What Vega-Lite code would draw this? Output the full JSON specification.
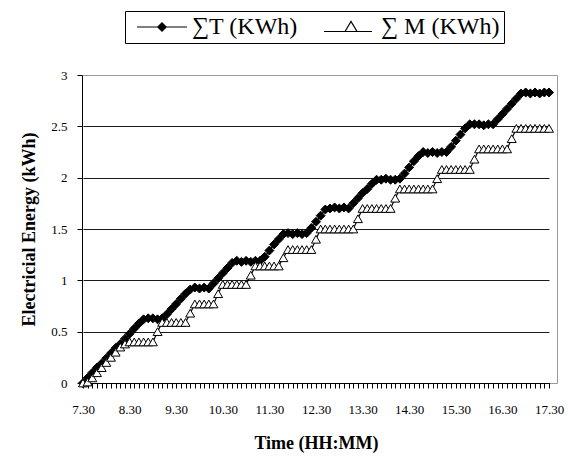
{
  "$schema": "https://vega.github.io/schema/vega-lite/v6.json",
  "width": 475,
  "height": 308,
  "autosize": "none",
  "padding": {"left": 82, "top": 75, "right": 11, "bottom": 79},
  "background": "white",
  "config": {
    "font": "Liberation Serif",
    "view": {"stroke": "#9a9a9a", "strokeWidth": 1},
    "axis": {
      "domainColor": "black",
      "tickColor": "black",
      "labelColor": "black",
      "titleColor": "black",
      "labelFont": "Liberation Serif",
      "titleFont": "Liberation Serif",
      "tickSize": 5
    },
    "legend": {
      "orient": "none",
      "legendX": 43,
      "legendY": -64,
      "direction": "horizontal",
      "labelFont": "Liberation Serif",
      "labelFontSize": 24,
      "labelColor": "black",
      "labelLimit": 0,
      "strokeColor": "black",
      "fillColor": "white",
      "padding": 4,
      "symbolSize": 400,
      "symbolOffset": 21,
      "labelOffset": 18,
      "columnPadding": 20,
      "symbolStrokeColor": "black",
      "symbolStrokeWidth": 1.2
    }
  },
  "data": {
    "values": [
      {"time": "7:30", "T": 0, "M": 0},
      {"time": "7:36", "T": 0.05, "M": 0.01},
      {"time": "7:42", "T": 0.10, "M": 0.05},
      {"time": "7:48", "T": 0.15, "M": 0.10},
      {"time": "7:54", "T": 0.19, "M": 0.15},
      {"time": "8:00", "T": 0.24, "M": 0.20},
      {"time": "8:06", "T": 0.29, "M": 0.25},
      {"time": "8:12", "T": 0.34, "M": 0.30},
      {"time": "8:18", "T": 0.38, "M": 0.35},
      {"time": "8:24", "T": 0.43, "M": 0.38},
      {"time": "8:30", "T": 0.48, "M": 0.40},
      {"time": "8:36", "T": 0.53, "M": 0.40},
      {"time": "8:42", "T": 0.58, "M": 0.40},
      {"time": "8:48", "T": 0.62, "M": 0.40},
      {"time": "8:54", "T": 0.63, "M": 0.40},
      {"time": "9:00", "T": 0.63, "M": 0.40},
      {"time": "9:06", "T": 0.62, "M": 0.50},
      {"time": "9:12", "T": 0.63, "M": 0.59},
      {"time": "9:18", "T": 0.67, "M": 0.59},
      {"time": "9:24", "T": 0.72, "M": 0.59},
      {"time": "9:30", "T": 0.77, "M": 0.59},
      {"time": "9:36", "T": 0.82, "M": 0.59},
      {"time": "9:42", "T": 0.87, "M": 0.59},
      {"time": "9:48", "T": 0.91, "M": 0.68},
      {"time": "9:54", "T": 0.93, "M": 0.77},
      {"time": "10:00", "T": 0.92, "M": 0.77},
      {"time": "10:06", "T": 0.93, "M": 0.77},
      {"time": "10:12", "T": 0.92, "M": 0.77},
      {"time": "10:18", "T": 0.97, "M": 0.77},
      {"time": "10:24", "T": 1.02, "M": 0.87},
      {"time": "10:30", "T": 1.07, "M": 0.96},
      {"time": "10:36", "T": 1.12, "M": 0.96},
      {"time": "10:42", "T": 1.17, "M": 0.96},
      {"time": "10:48", "T": 1.19, "M": 0.96},
      {"time": "10:54", "T": 1.18, "M": 0.96},
      {"time": "11:00", "T": 1.19, "M": 0.96},
      {"time": "11:06", "T": 1.18, "M": 1.05},
      {"time": "11:12", "T": 1.19, "M": 1.14},
      {"time": "11:18", "T": 1.19, "M": 1.14},
      {"time": "11:24", "T": 1.23, "M": 1.14},
      {"time": "11:30", "T": 1.29, "M": 1.14},
      {"time": "11:36", "T": 1.35, "M": 1.14},
      {"time": "11:42", "T": 1.40, "M": 1.14},
      {"time": "11:48", "T": 1.45, "M": 1.22},
      {"time": "11:54", "T": 1.46, "M": 1.30},
      {"time": "12:00", "T": 1.45, "M": 1.30},
      {"time": "12:06", "T": 1.46, "M": 1.30},
      {"time": "12:12", "T": 1.45, "M": 1.30},
      {"time": "12:18", "T": 1.46, "M": 1.30},
      {"time": "12:24", "T": 1.51, "M": 1.30},
      {"time": "12:30", "T": 1.57, "M": 1.40},
      {"time": "12:36", "T": 1.63, "M": 1.50},
      {"time": "12:42", "T": 1.69, "M": 1.50},
      {"time": "12:48", "T": 1.70, "M": 1.50},
      {"time": "12:54", "T": 1.71, "M": 1.50},
      {"time": "13:00", "T": 1.70, "M": 1.50},
      {"time": "13:06", "T": 1.71, "M": 1.50},
      {"time": "13:12", "T": 1.70, "M": 1.50},
      {"time": "13:18", "T": 1.75, "M": 1.50},
      {"time": "13:24", "T": 1.80, "M": 1.60},
      {"time": "13:30", "T": 1.85, "M": 1.70},
      {"time": "13:36", "T": 1.89, "M": 1.70},
      {"time": "13:42", "T": 1.94, "M": 1.70},
      {"time": "13:48", "T": 1.98, "M": 1.70},
      {"time": "13:54", "T": 1.98, "M": 1.70},
      {"time": "14:00", "T": 1.99, "M": 1.70},
      {"time": "14:06", "T": 1.98, "M": 1.70},
      {"time": "14:12", "T": 1.98, "M": 1.80},
      {"time": "14:18", "T": 1.99, "M": 1.89},
      {"time": "14:24", "T": 2.04, "M": 1.89},
      {"time": "14:30", "T": 2.10, "M": 1.89},
      {"time": "14:36", "T": 2.16, "M": 1.89},
      {"time": "14:42", "T": 2.21, "M": 1.89},
      {"time": "14:48", "T": 2.25, "M": 1.89},
      {"time": "14:54", "T": 2.24, "M": 1.89},
      {"time": "15:00", "T": 2.25, "M": 1.89},
      {"time": "15:06", "T": 2.24, "M": 1.99},
      {"time": "15:12", "T": 2.25, "M": 2.08},
      {"time": "15:18", "T": 2.25, "M": 2.08},
      {"time": "15:24", "T": 2.30, "M": 2.08},
      {"time": "15:30", "T": 2.36, "M": 2.08},
      {"time": "15:36", "T": 2.42, "M": 2.08},
      {"time": "15:42", "T": 2.48, "M": 2.08},
      {"time": "15:48", "T": 2.52, "M": 2.08},
      {"time": "15:54", "T": 2.52, "M": 2.18},
      {"time": "16:00", "T": 2.52, "M": 2.28},
      {"time": "16:06", "T": 2.51, "M": 2.28},
      {"time": "16:12", "T": 2.52, "M": 2.28},
      {"time": "16:18", "T": 2.52, "M": 2.28},
      {"time": "16:24", "T": 2.57, "M": 2.28},
      {"time": "16:30", "T": 2.62, "M": 2.28},
      {"time": "16:36", "T": 2.67, "M": 2.28},
      {"time": "16:42", "T": 2.72, "M": 2.38},
      {"time": "16:48", "T": 2.77, "M": 2.48},
      {"time": "16:54", "T": 2.82, "M": 2.48},
      {"time": "17:00", "T": 2.83, "M": 2.48},
      {"time": "17:06", "T": 2.82, "M": 2.48},
      {"time": "17:12", "T": 2.83, "M": 2.48},
      {"time": "17:18", "T": 2.82, "M": 2.48},
      {"time": "17:24", "T": 2.83, "M": 2.48},
      {"time": "17:30", "T": 2.83, "M": 2.48}
    ]
  },
  "transform": [
    {"fold": ["T", "M"], "as": ["series", "kwh"]}
  ],
  "encoding": {
    "x": {
      "field": "time",
      "type": "ordinal",
      "sort": null,
      "scale": {"type": "point", "padding": 0, "range": [1, 467]},
      "axis": {
        "title": "Time  (HH:MM)",
        "titleFontSize": 18,
        "titleFontWeight": "bold",
        "titlePadding": 18,
        "labelAngle": 0,
        "labelFontSize": 13,
        "labelPadding": 15,
        "labelOverlap": false,
        "labelExpr": "slice(datum.value, -2) == '30' ? replace(datum.value, ':', '.') : ''",
        "grid": false
      }
    },
    "y": {
      "field": "kwh",
      "type": "quantitative",
      "scale": {"domain": [0, 3], "nice": false},
      "axis": {
        "title": "Electricial Energy  (kWh)",
        "titleFontSize": 18,
        "titleFontWeight": "bold",
        "titlePadding": 12,
        "values": [0, 0.5, 1, 1.5, 2, 2.5, 3],
        "format": "~g",
        "labelFontSize": 13,
        "labelPadding": 10,
        "grid": true,
        "gridColor": {"condition": {"test": "datum.value == 3", "value": "#9a9a9a"}, "value": "#1a1a1a"},
        "gridWidth": 1
      }
    }
  },
  "layer": [
    {
      "mark": {"type": "line", "color": "black", "strokeWidth": 1.2},
      "encoding": {"detail": {"field": "series"}}
    },
    {
      "mark": {"type": "point", "stroke": "black", "strokeWidth": 1, "opacity": 1, "size": 80},
      "encoding": {
        "shape": {
          "field": "series",
          "type": "nominal",
          "scale": {"domain": ["M", "T"], "range": ["triangle-up", "diamond"]},
          "legend": null
        },
        "fill": {
          "field": "series",
          "type": "nominal",
          "scale": {"domain": ["T", "M"], "range": ["black", "white"]},
          "legend": {
            "title": null,
            "labelExpr": "datum.value == 'T' ? '∑T (KWh)' : '∑ M (KWh)'",
            "symbolType": {"expr": "datum.value == 'T' ? 'M-2.5,0H2.5M-0.42,0L0,-0.42L0.42,0L0,0.42Z' : 'M-2.7,0.45H2.1M-0.6,0.45L0,-0.55L0.6,0.45Z'"}
          }
        },
        "order": {"field": "series", "sort": "descending"}
      }
    }
  ]
}
